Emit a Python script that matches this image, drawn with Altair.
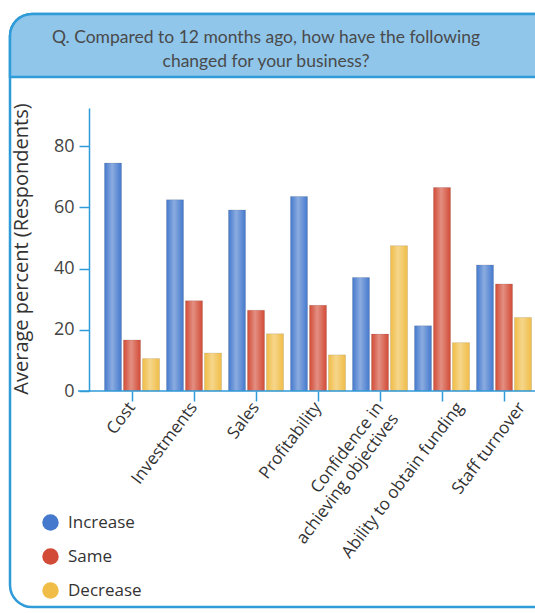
import altair as alt
import pandas as pd

categories = ["Cost", "Investments", "Sales", "Profitability",
              "Confidence in\nachieving objectives", "Ability to obtain funding", "Staff turnover"]
series = ["Increase", "Same", "Decrease"]
increase = [74.5, 62.5, 59.2, 63.6, 37.1, 21.3, 41.2]
same = [16.7, 29.5, 26.4, 28.0, 18.6, 66.5, 35.0]
decrease = [10.6, 12.4, 18.7, 11.8, 47.5, 15.8, 24.0]
colors = ["#4479cd", "#d24b36", "#f0bd46"]
y_ticks = [0, 20, 40, 60, 80]
title_lines = ["Q. Compared to 12 months ago, how have the following",
               "changed for your business?"]
y_title = "Average percent (Respondents)"

rows = []
for s, vals in zip(series, [increase, same, decrease]):
    for c, v in zip(categories, vals):
        rows.append({"category": c, "series": s, "value": v})
df = pd.DataFrame(rows)

W, H = 434, 283
FONT = "Open Sans"
BLUE = "#2f9bd8"

shifted = "indexof(['Ability to obtain funding', 'Staff turnover'], datum.value) >= 0"

x = alt.X("category:N", sort=categories,
          scale=alt.Scale(paddingInner=0.113, paddingOuter=0.0565),
          axis=alt.Axis(title=None, labelAngle=-53, labelAlign="right", labelBaseline="middle",
                        labelFontSize=17, labelColor="#333333", labelFont=FONT,
                        labelExpr="split(datum.label, '\\n')", labelPadding=3,
                        labelLineHeight=19,
                        labelOffset={"condition": {"test": shifted, "value": 18}, "value": 0},
                        tickColor=BLUE, tickSize=10, tickWidth=1.5,
                        domain=False, labelLimit=300, zindex=2))
y = alt.Y("value:Q", scale=alt.Scale(domain=[0, 92.5], nice=False),
          axis=alt.Axis(title=None, values=y_ticks, grid=False, offset=12,
                        domainColor=BLUE, domainWidth=1.5, tickColor=BLUE, tickSize=10,
                        tickWidth=1.5, labelFontSize=18, labelColor="#444444",
                        labelFont=FONT, labelPadding=5, zindex=2))
xo = alt.XOffset("series:N", sort=series, scale=alt.Scale(paddingInner=0.105, paddingOuter=0))

bars = alt.Chart(df).mark_bar(stroke="#00000022", strokeWidth=0.8).encode(
    x=x, y=y, xOffset=xo,
    color=alt.Color("series:N", sort=series,
                    scale=alt.Scale(domain=series, range=colors),
                    legend=alt.Legend(title=None, orient="none", legendX=-59, legendY=406,
                                      symbolType="circle", symbolSize=270,
                                      symbolStrokeWidth=0, labelFontSize=17,
                                      labelFont=FONT, labelColor="#333333",
                                      rowPadding=16, labelOffset=9, zindex=2))
)

shine = alt.Chart(df).mark_bar(
    color=alt.Gradient(gradient="linear", x1=0, x2=1, y1=0, y2=0,
                       stops=[alt.GradientStop(color="rgba(255,255,255,0)", offset=0),
                              alt.GradientStop(color="rgba(255,255,255,0.38)", offset=0.45),
                              alt.GradientStop(color="rgba(255,255,255,0)", offset=1)])
).encode(x=alt.X("category:N", sort=categories), y="value:Q", xOffset=alt.XOffset("series:N", sort=series))

one = alt.Data(values=[{"k": 1}])

frame = alt.Chart(one).mark_rect(fill="white", stroke=BLUE, strokeWidth=2.5, cornerRadius=22).encode(
    x=alt.value(-91), x2=alt.value(W + 60), y=alt.value(-94), y2=alt.value(499))
header = alt.Chart(one).mark_rect(fill="#8fc6ea", stroke=BLUE, strokeWidth=2.5,
                                  cornerRadiusTopLeft=22).encode(
    x=alt.value(-91), x2=alt.value(W + 60), y=alt.value(-94), y2=alt.value(-31))
t1 = alt.Chart(one).mark_text(text=title_lines[0], font="Lato", fontSize=17.5, color="#4a4a4a").encode(
    x=alt.value(165), y=alt.value(-70))
t2 = alt.Chart(one).mark_text(text=title_lines[1], font="Lato", fontSize=17.5, color="#4a4a4a").encode(
    x=alt.value(165), y=alt.value(-46))
ytitle = alt.Chart(one).mark_text(text=y_title, font=FONT, fontSize=20, color="#333333", angle=270).encode(
    x=alt.value(-79), y=alt.value(141))
xdomain = alt.Chart(one).mark_rule(color=BLUE, strokeWidth=1.5).encode(
    x=alt.value(-23), x2=alt.value(W + 5), y=alt.value(H))

chart = alt.layer(frame, header, t1, t2, ytitle, bars, shine, xdomain).properties(
    width=W, height=H,
    autosize=alt.AutoSizeParams(type="none"),
    padding={"left": 101, "top": 108, "right": 0, "bottom": 222},
).configure_view(stroke=None)

chart.save("out.html", embed_options={"renderer": "svg", "actions": False})
